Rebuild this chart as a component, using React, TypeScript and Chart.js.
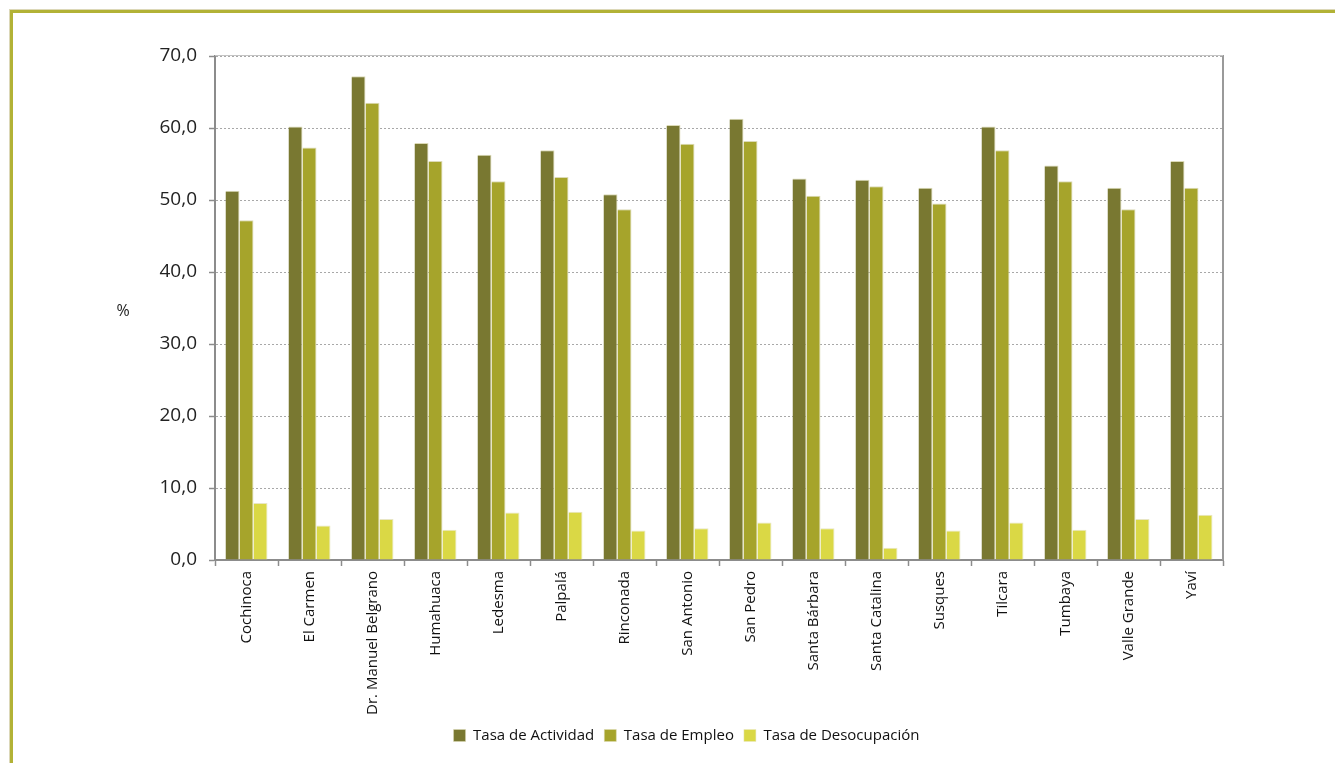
import React, { useEffect, useRef } from "react";
import { Chart, registerables } from "chart.js";

Chart.register(...registerables);

const categories = [
  "Cochinoca", "El Carmen", "Dr. Manuel Belgrano", "Humahuaca", "Ledesma", "Palpalá",
  "Rinconada", "San Antonio", "San Pedro", "Santa Bárbara", "Santa Catalina", "Susques",
  "Tilcara", "Tumbaya", "Valle Grande", "Yaví",
];
const tasaActividad = [51.3, 60.2, 67.2, 57.9, 56.3, 56.9, 50.8, 60.4, 61.3, 53.0, 52.8, 51.7, 60.2, 54.8, 51.7, 55.4];
const tasaEmpleo = [47.2, 57.3, 63.5, 55.4, 52.6, 53.2, 48.7, 57.8, 58.2, 50.6, 51.9, 49.5, 56.9, 52.6, 48.7, 51.7];
const tasaDesocupacion = [7.9, 4.8, 5.7, 4.2, 6.6, 6.7, 4.1, 4.4, 5.2, 4.4, 1.7, 4.1, 5.2, 4.2, 5.7, 6.3];
const seriesNames = ["Tasa de Actividad", "Tasa de Empleo", "Tasa de Desocupación"];
const yTitle = "%";

const FONT = "'Open Sans', sans-serif";
const LEGEND_SHIFT = 75;

const extrasPlugin = {
  id: "extras",
  afterLayout(chart: any) {
    if (chart.legend) {
      chart.legend.left += LEGEND_SHIFT;
      chart.legend.right += LEGEND_SHIFT;
    }
  },
  afterDraw(chart: any) {
    const { ctx, chartArea } = chart;
    ctx.save();
    // right plot border
    ctx.strokeStyle = "#9a9a9a";
    ctx.lineWidth = 2;
    ctx.beginPath();
    ctx.moveTo(chartArea.right, chartArea.top - 1);
    ctx.lineTo(chartArea.right, chartArea.bottom);
    ctx.stroke();
    // top plot border
    ctx.strokeStyle = "#c4c4c4";
    ctx.lineWidth = 1;
    ctx.beginPath();
    ctx.moveTo(chartArea.left, chartArea.top - 0.5);
    ctx.lineTo(chartArea.right, chartArea.top - 0.5);
    ctx.stroke();
    // horizontal "%" axis title
    ctx.fillStyle = "#222";
    ctx.font = `16px ${FONT}`;
    ctx.textAlign = "center";
    ctx.textBaseline = "middle";
    ctx.fillText(yTitle, chartArea.left - 92, (chartArea.top + chartArea.bottom) / 2 + 3);
    ctx.restore();
  },
};

const barBorder = { top: 1, right: 1, left: 0, bottom: 0 };

export default function App() {
  const canvasRef = useRef<HTMLCanvasElement | null>(null);

  useEffect(() => {
    if (!canvasRef.current) return;
    const chart = new Chart(canvasRef.current, {
      type: "bar",
      data: {
        labels: categories,
        datasets: [
          { label: seriesNames[0], data: tasaActividad, backgroundColor: "#797831", borderColor: "#dcdab6", borderWidth: barBorder, borderSkipped: false },
          { label: seriesNames[1], data: tasaEmpleo, backgroundColor: "#a6a42b", borderColor: "#dcdab6", borderWidth: barBorder, borderSkipped: false },
          { label: seriesNames[2], data: tasaDesocupacion, backgroundColor: "#dad845", borderColor: "#e8e6c4", borderWidth: barBorder, borderSkipped: false },
        ],
      },
      options: {
        responsive: false,
        animation: false,
        layout: { padding: { left: 0, right: 112, top: 56, bottom: 10 } },
        datasets: { bar: { categoryPercentage: 0.667, barPercentage: 1 } },
        plugins: {
          tooltip: { enabled: false },
          legend: {
            position: "bottom",
            labels: {
              boxWidth: 12,
              boxHeight: 12,
              padding: 10,
              color: "#111",
              font: { family: FONT, size: 15 },
            },
          },
        },
        scales: {
          x: {
            afterFit: (scale: any) => { scale.height = 158; },
            grid: {
              display: true,
              drawOnChartArea: false,
              drawTicks: true,
              tickLength: 6,
              tickColor: "#8c8c8c",
              tickWidth: 1.5,
              offset: true,
            },
            border: { display: true, color: "#8c8c8c", width: 2 },
            ticks: {
              autoSkip: false,
              minRotation: 90,
              maxRotation: 90,
              padding: 5,
              color: "#111",
              font: { family: FONT, size: 15 },
            },
          },
          y: {
            min: 0,
            max: 70,
            afterFit: (scale: any) => { scale.width = 215; },
            grid: {
              color: "#a8a8a8",
              lineWidth: 1,
              tickLength: 6,
              tickColor: "#8c8c8c",
              tickWidth: 1.5,
            },
            border: { display: true, color: "#8c8c8c", width: 2, dash: [2, 2] },
            ticks: {
              stepSize: 10,
              padding: 12,
              color: "#222",
              font: { family: FONT, size: 19 },
              callback: (v: any) => Number(v).toFixed(1).replace(".", ","),
            },
          },
        },
      },
      plugins: [extrasPlugin],
    });
    return () => chart.destroy();
  }, []);

  return (
    <div style={{ position: "fixed", left: 0, top: 0, width: 1335, height: 763, overflow: "hidden", background: "#fff" }}>
      <div
        style={{
          position: "absolute",
          left: 10,
          top: 10,
          width: 1500,
          height: 900,
          borderTop: "3px solid #b2b236",
          borderLeft: "3px solid #b2b236",
          boxShadow: "-1px -1px 0 #dcd8b8",
        }}
      />
      <canvas ref={canvasRef} width={1335} height={763} style={{ position: "absolute", left: 0, top: 0 }} />
    </div>
  );
}
